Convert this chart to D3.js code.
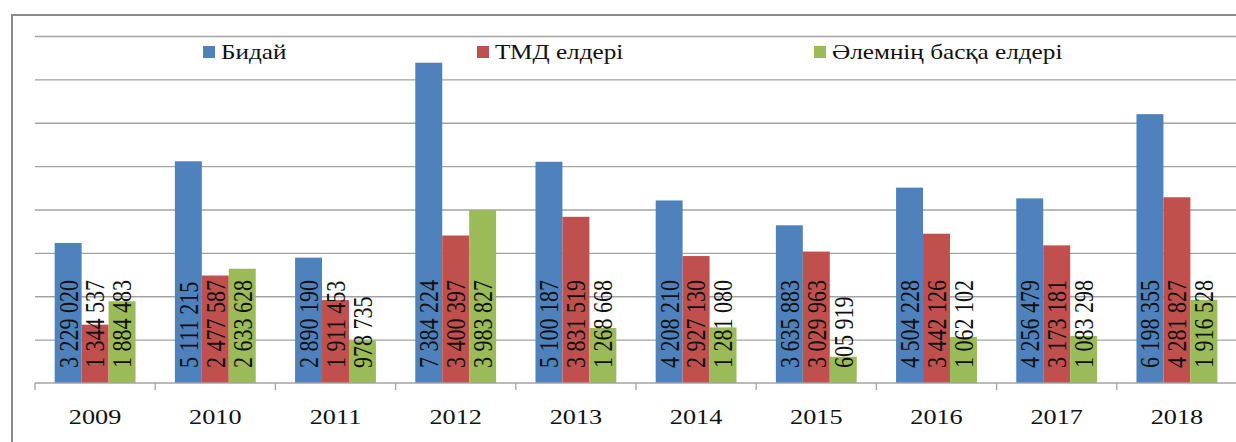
<!DOCTYPE html>
<html>
<head>
<meta charset="utf-8">
<script src="https://cdn.jsdelivr.net/npm/d3@7"></script>
<style>
  html, body { margin: 0; padding: 0; background: #fff; }
  svg { display: block; }
  svg text { font-family: "Liberation Serif", "DejaVu Serif", serif; font-weight: normal; }
</style>
</head>
<body>
<div id="chart"></div>
<script>
const years = ["2009", "2010", "2011", "2012", "2013", "2014", "2015", "2016", "2017", "2018"];
const seriesNames = ["Бидай", "ТМД елдері", "Әлемнің басқа елдері"];
const wheat = [3229020, 5111215, 2890190, 7384224, 5100187, 4208210, 3635883, 4504228, 4256479, 6198355];
const cis = [1344537, 2477587, 1911453, 3400397, 3831519, 2927130, 3029963, 3442126, 3173181, 4281827];
const otherWorld = [1884483, 2633628, 978735, 3983827, 1268668, 1281080, 605919, 1062102, 1083298, 1916528];
const gridTicks = [1000000, 2000000, 3000000, 4000000, 5000000, 6000000, 7000000, 8000000];
const colors = ["#4f81bd", "#c0504d", "#9bbb59"];

const width = 1236, height = 442;
const plotLeft = 35, plotRight = 1237, plotTop = 36, baseline = 383;
const stretch = 1.25; // the source picture is wider than tall

const svg = d3.select("#chart").append("svg")
    .attr("width", width)
    .attr("height", height);

// outer frame
svg.append("rect")
    .attr("x", 12).attr("y", 15)
    .attr("width", 1240).attr("height", 440)
    .attr("fill", "none")
    .attr("stroke", "#8c8c8c")
    .attr("stroke-width", 2);

const y = d3.scaleLinear().domain([0, 8000000]).range([baseline, plotTop]);
const x = d3.scaleBand().domain(years).range([plotLeft, plotRight]).padding(0);
const xInner = d3.scaleBand().domain(seriesNames).range([0, x.bandwidth()])
    .paddingInner(0).paddingOuter(0.73);

// gridlines
const grid = svg.append("g")
    .attr("transform", `translate(${plotLeft},0)`)
    .call(d3.axisLeft(y).tickValues(gridTicks).tickSize(-(width - plotLeft)).tickFormat(""));
grid.select(".domain").remove();
grid.selectAll(".tick line").attr("stroke", "#a3a3a3").attr("stroke-width", 1.3);

const data = years.map((yr, i) => ({
    year: yr,
    values: [wheat[i], cis[i], otherWorld[i]]
}));

const fmt = v => d3.format(",")(v).replace(/,/g, " ");

const groups = svg.append("g").selectAll("g")
    .data(data)
    .join("g")
    .attr("transform", d => `translate(${x(d.year)},0)`);

groups.selectAll("rect")
    .data(d => d.values.map((v, j) => ({ name: seriesNames[j], value: v, j: j })))
    .join("rect")
    .attr("x", d => xInner(d.name))
    .attr("y", d => y(d.value))
    .attr("width", xInner.bandwidth())
    .attr("height", d => baseline - y(d.value))
    .attr("fill", d => colors[d.j]);

// value labels, rotated, starting near the base
groups.selectAll("text.val")
    .data(d => d.values.map((v, j) => ({ name: seriesNames[j], value: v })))
    .join("text")
    .attr("class", "val")
    .attr("transform", d => `translate(${xInner(d.name) + xInner.bandwidth() / 2},${baseline - 15}) rotate(-90) scale(1,${stretch})`)
    .attr("dy", "0.34em")
    .attr("text-anchor", "start")
    .attr("font-size", 22)
    .attr("fill", "#111")
    .text(d => fmt(d.value));

// x axis
const xAxis = svg.append("g")
    .attr("transform", `translate(0,${baseline})`);
xAxis.append("line")
    .attr("x1", plotLeft).attr("x2", width)
    .attr("stroke", "#a3a3a3").attr("stroke-width", 1.3);
xAxis.selectAll("line.tk")
    .data(years)
    .join("line")
    .attr("class", "tk")
    .attr("x1", d => x(d)).attr("x2", d => x(d))
    .attr("y1", 0).attr("y2", 7)
    .attr("stroke", "#a3a3a3").attr("stroke-width", 1.3);
xAxis.selectAll("text")
    .data(years)
    .join("text")
    .attr("transform", d => `translate(${x(d) + x.bandwidth() / 2},41) scale(${stretch},1)`)
    .attr("text-anchor", "middle")
    .attr("font-size", 21)
    .attr("fill", "#111")
    .text(d => d);

// legend
const legendX = [203, 477, 814];
const legend = svg.append("g").selectAll("g")
    .data(seriesNames)
    .join("g")
    .attr("transform", (d, i) => `translate(${legendX[i]},52)`);
legend.append("rect")
    .attr("x", 0).attr("y", -6)
    .attr("width", 12).attr("height", 12)
    .attr("fill", (d, i) => colors[i]);
legend.append("text")
    .attr("transform", `translate(18,7) scale(1.2,1)`)
    .attr("font-size", 21)
    .attr("fill", "#111")
    .text(d => d);
</script>
</body>
</html>
